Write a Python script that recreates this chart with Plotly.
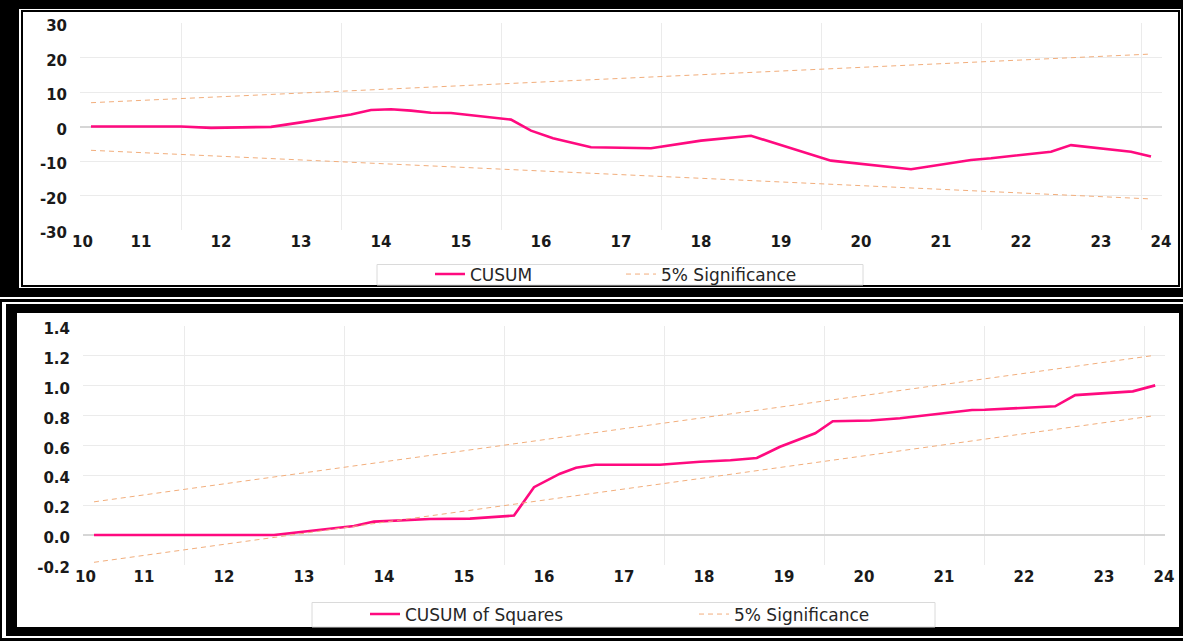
import plotly.graph_objects as go

# ---------------- data ----------------
years = list(range(2010, 2025))
year_labels = [str(y % 100) for y in years]
grid_years = [2012, 2014, 2016, 2018, 2020, 2022, 2024]

cusum_t = [2010.875, 2012.0, 2012.375, 2013.125, 2013.5, 2014.125, 2014.375, 2014.625,
           2014.875, 2015.125, 2015.375, 2015.65, 2016.125, 2016.375, 2016.65, 2017.125,
           2017.875, 2018.5, 2019.125, 2020.125, 2021.125, 2021.875, 2022.125, 2022.875,
           2023.125, 2023.875, 2024.125]
cusum = [0.0, 0.0, -0.4, -0.1, 1.2, 3.5, 4.8, 5.0,
         4.6, 4.0, 3.9, 3.2, 2.0, -1.2, -3.4, -6.0,
         -6.3, -4.1, -2.7, -9.9, -12.4, -9.7, -9.2, -7.3,
         -5.4, -7.3, -8.7]
sig_t = [2010.875, 2024.125]
cusum_upper = [6.9, 21.0]
cusum_lower = [-6.9, -21.0]

cusumsq_t = [2010.875, 2013.125, 2013.625, 2014.125, 2014.375, 2014.65, 2015.075, 2015.575,
             2016.125, 2016.375, 2016.7, 2016.9, 2017.14, 2017.95, 2018.45, 2018.83,
             2019.16, 2019.45, 2019.89, 2020.11, 2020.58, 2020.95, 2021.85, 2022.01,
             2022.89, 2023.14, 2023.86, 2024.14]
cusumsq = [0.0, 0.0, 0.03, 0.06, 0.09, 0.096, 0.107, 0.11,
           0.13, 0.32, 0.41, 0.45, 0.47, 0.47, 0.49, 0.50,
           0.515, 0.59, 0.68, 0.76, 0.765, 0.78, 0.835, 0.837,
           0.86, 0.935, 0.96, 1.0]
sq_upper = [0.222, 1.20]
sq_lower = [-0.182, 0.797]

# ---------------- styling ----------------
W, H = 1183, 641
X_RANGE = [2010.7375, 2024.2625]
PINK = "#FF0A7F"
ORANGE = "#F2AE7C"
GRID = "#EBEBEB"
FONT = "DejaVu Sans"
TXT = "#1A1A1A"

lo, hi = X_RANGE
tick_pos = [min(max(y + 0.5, lo + 0.03), hi - 0.013) for y in years]


def px(x):
    return x / W


def py(y):
    return 1 - y / H


fig = go.Figure()

dash = "5px,4px"
fig.add_trace(go.Scatter(x=cusum_t, y=cusum, mode="lines", name="CUSUM",
                         line=dict(color=PINK, width=2.6), xaxis="x", yaxis="y", legend="legend"))
fig.add_trace(go.Scatter(x=sig_t, y=cusum_upper, mode="lines", name="5% Significance",
                         line=dict(color=ORANGE, width=1, dash=dash), xaxis="x", yaxis="y",
                         legend="legend", legendgroup="s1"))
fig.add_trace(go.Scatter(x=sig_t, y=cusum_lower, mode="lines", name="5% Significance",
                         line=dict(color=ORANGE, width=1, dash=dash), xaxis="x", yaxis="y",
                         legend="legend", legendgroup="s1", showlegend=False))

fig.add_trace(go.Scatter(x=cusumsq_t, y=cusumsq, mode="lines", name="CUSUM of Squares",
                         line=dict(color=PINK, width=2.6), xaxis="x2", yaxis="y2", legend="legend2"))
fig.add_trace(go.Scatter(x=sig_t, y=sq_upper, mode="lines", name="5% Significance",
                         line=dict(color=ORANGE, width=1, dash=dash), xaxis="x2", yaxis="y2",
                         legend="legend2", legendgroup="s2"))
fig.add_trace(go.Scatter(x=sig_t, y=sq_lower, mode="lines", name="5% Significance",
                         line=dict(color=ORANGE, width=1, dash=dash), xaxis="x2", yaxis="y2",
                         legend="legend2", legendgroup="s2", showlegend=False))

tickfont = dict(family=FONT, size=15, color=TXT, weight="bold")
legfont = dict(family=FONT, size=17, color="#262626")


def xaxis_main(domain, anchor):
    return dict(domain=domain, anchor=anchor, range=X_RANGE, tickmode="array",
                tickvals=tick_pos, ticktext=year_labels, showgrid=False, zeroline=False,
                showline=False, ticks="", tickfont=tickfont, ticklabelstandoff=1,
                minor=dict(tickmode="array", tickvals=grid_years, showgrid=True,
                           gridcolor=GRID, gridwidth=1.3, ticks=""),
                automargin=False, fixedrange=True)


def yaxis_main(domain, anchor, rng, vals, texts):
    return dict(domain=domain, anchor=anchor, range=rng, tickmode="array",
                tickvals=vals, ticktext=texts,
                showgrid=True, gridcolor=GRID, gridwidth=1, zeroline=True,
                zerolinecolor="#D6D6D6", zerolinewidth=1.5, showline=False, ticks="",
                tickfont=tickfont, ticklabelstandoff=12, ticklabelshift=3,
                automargin=False, fixedrange=True)


top_vals = [-30, -20, -10, 0, 10, 20, 30]
bot_vals = [-0.2, 0.0, 0.2, 0.4, 0.6, 0.8, 1.0, 1.2, 1.4]

fig.update_layout(
    width=W, height=H,
    margin=dict(l=0, r=0, t=0, b=0, pad=0, autoexpand=False),
    paper_bgcolor="white", plot_bgcolor="rgba(0,0,0,0)",
    xaxis=xaxis_main([px(80), px(1162)], "y"),
    yaxis=yaxis_main([py(230), py(23)], "x", [-30, 30], top_vals, [str(v) for v in top_vals]),
    xaxis2=xaxis_main([px(83), px(1165)], "y2"),
    yaxis2=yaxis_main([py(565), py(325.5)], "x2", [-0.2, 1.4], bot_vals,
                      [f"{v:.1f}" for v in bot_vals]),
    legend=dict(orientation="h", x=px(430), xanchor="left", y=py(274.5), yanchor="middle",
                bgcolor="rgba(0,0,0,0)", borderwidth=0, font=legfont,
                entrywidth=146, entrywidthmode="pixels"),
    legend2=dict(orientation="h", x=px(365), xanchor="left", y=py(614.5), yanchor="middle",
                 bgcolor="rgba(0,0,0,0)", borderwidth=0, font=legfont,
                 entrywidth=284, entrywidthmode="pixels"),
    showlegend=True,
)


def rect(x0, y0, x1, y1, color, line=None):
    return dict(type="rect", xref="paper", yref="paper", x0=px(x0), x1=px(x1),
                y0=py(y1), y1=py(y0), fillcolor=color,
                line=line if line else dict(width=0), layer="below")


legend_line = dict(color="#DADADA", width=1)
shapes = [
    # top panel frame
    rect(0, 0, 1183, 297, "black"),
    rect(19, 9, 1181, 288, "white"),
    rect(21, 10, 1180, 287, "black"),
    rect(23, 12, 1178, 285, "white"),
    # bottom panel frame
    rect(0, 299, 1183, 641, "black"),
    rect(2, 302, 1183, 638, "white"),
    rect(6, 304, 1183, 636, "black"),
    rect(17, 313, 1179, 627, "white"),
    # legend boxes (their lower edge disappears under the frame, as in the original)
    rect(377, 264.5, 863, 285, "white", legend_line),
    rect(312, 602.5, 935, 627, "white", legend_line),
]
fig.update_layout(shapes=shapes)

fig.write_html(
    "out.html",
    config={"displayModeBar": False},
    post_script="document.documentElement.style.margin='0px';"
                "document.body.style.margin='0px';document.body.style.padding='0px';",
)
